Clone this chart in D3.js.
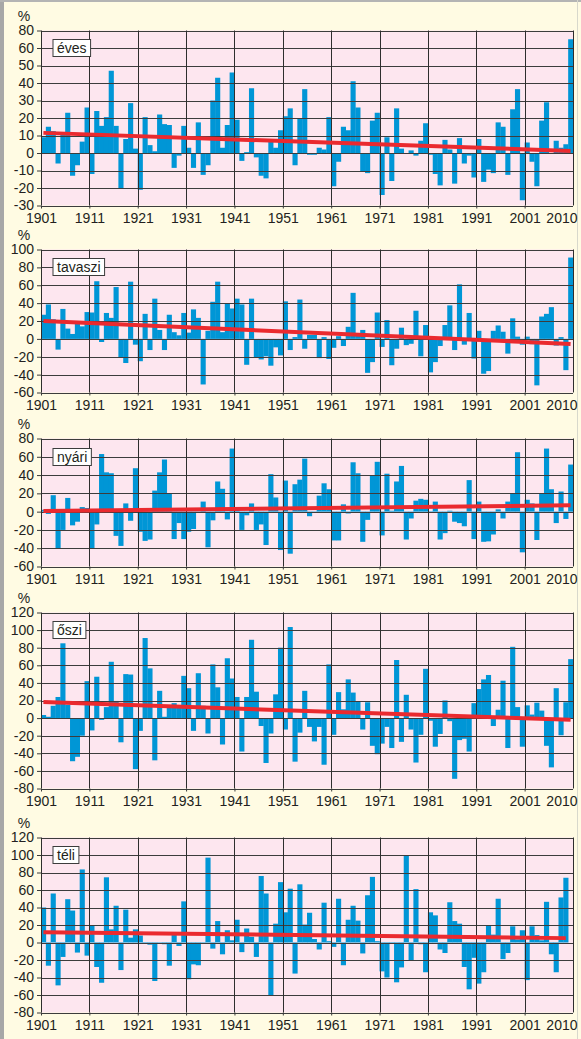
<!DOCTYPE html>
<html>
<head>
<meta charset="utf-8">
<script src="https://cdn.jsdelivr.net/npm/d3@7/dist/d3.min.js"></script>
<style>
  body { margin: 0; background: #fffbe3; }
  svg { display: block; font-family: "Liberation Sans", Arial, sans-serif; }
  .axis text { font-size: 14px; fill: #231f20; }
  .axis line { stroke: #3a3a3a; }
  .axis path { display: none; }
</style>
</head>
<body>
<div id="chart"></div>
<script>
// precipitation anomaly (%) by year, 1901-2010
const years = d3.range(1901, 2011);

const eves = [
  9, 15, 12.5, -6, 12, 23, -13, -7, 6.5, 26,
  -12, 24, 15.5, 20.5, 47, 15.5, -20, 8, 28.5, 2.5,
  -21, 20.5, 4.5, 1, 22, 16.5, 16, -8.5, -1.5, 15.5,
  3, -8.5, 17.5, -12.5, -7, 30, 43, 3, 16, 46,
  19, -4.5, 0.5, 37, -2.5, -13, -14.5, 8, 3, 13,
  21, 25.5, -7, 20, 36.5, -1, -1, 3, 2, 20.5,
  -19, -5, 15, 13, 41, 26, -10.5, -11.5, 18.5, 23,
  -24, 9, -16, 25.5, 2.5, -0.5, 1.5, -1.5, 7, 17,
  -1, -12, -18.5, 7.5, 2, -17.5, 8.5, -6, -1.5, -14,
  8, -16.5, -9.5, -11.5, 17.5, 15, -12.5, 25, 36.5, -27,
  6, -5, -19, 18.5, 29, -0.5, 7, 3, 5, 65
];

const tavaszi = [
  27, 38.5, 22, -12, 33.5, 11.5, 5.5, 17, 14, 30,
  29.5, 64.5, -3.5, 29, 23.5, 58, -21, -27, 64, -6.5,
  -25, 28, -12.5, 45, 10, -12.5, 27, 7.5, 4, 29,
  7, 33, 23.5, -51, 9, 41.5, 64, 7.5, 40, 34,
  45, 38.5, -29, 45, -20.5, -23, -19.5, -30, -9.5, -18.5,
  42, -12.5, 2, 44, -11, 4.5, 4.5, -21.5, 2, -22.5,
  -10, 3, -8, 13.5, 51.5, 5, 10, -38, -26, 29.5,
  -9, 21, -29.5, -11, 12.5, -7, -5.5, 31.5, -19.5, 15.5,
  -37.5, -26, -8, 15.5, 37.5, -12.5, 61, -6.5, 29, -22,
  9, -39, -36, 9, 15, 8, -16.5, 23, 2.5, -6.5,
  2.5, -6, -52, 25, 28, 35.5, -7.5, 2, -35, 91
];

const nyari = [
  2, -2.5, 18, -40, -20, 15, -15, -11, 5, 4,
  -40, -14, 63, 43, 42, -26.5, -37.5, 9, -10, 47.5,
  -22, -32, -30.5, 23, 43, 57, 19.5, -30, -12.5, -30,
  -22, -19, -1, 11, -39, -9.5, 33, 25, -8.5, 69,
  3, -20, -4, 9, -20, -14, -36.5, 41, 15.5, -42,
  34, -46, 30, 35, 58, -5, -1, 17.5, 31, 24.5,
  -31.5, -31.5, 8, -2, 54, 42, -33, -9, 39.5, 54.5,
  -26, 41.5, 1, 33, 50, -30.5, -7.5, 12, 14, 13,
  0.5, 11, -30.5, -23.5, 1, -11, -12.5, -16, 34.5, -30,
  11, -33, -32.5, -25, 2.5, -7.5, 11, 20, 65, -44.5,
  13, 9, -31, 20, 69, 24.5, -12.5, 22, -8, 51.5
];

const oszi = [
  3.5, 1.5, 14, 24, 85, 15, -49, -44, -20, 42,
  -14, 47, -2, 12.5, 64, 19.5, -27.5, 50, 49.5, -58,
  -14.5, 91, 56.5, -48, 31, 1.5, 13, 17, 13, 48,
  34, -14.5, 51, 14, -17.5, 61, 35, -30, 68, 45,
  24, -38, 24, 89, 30, -9, -51, -17.5, 27, 80,
  -13, 103.5, -49.5, -16.5, 31, -10, -26.5, -10, -53, 61,
  -19, 29.5, 10, 44, 29, 19, -13, 18, -31.5, -41,
  -29, -10, -34, 66, -27, 26.5, -13, -50.5, -19, 56,
  -3, -32.5, -18, 20, -3.5, -69, -25, -23.5, -38, 17,
  33, 44, 49, -9, 9.5, 42.5, -34, 81, 12.5, -32.5,
  14.5, 4, 17.5, 8.5, -31.5, -56, 34, -19.5, 18, 67
];

// winter series ends with 2009
const teli = [
  40, -26.5, 56, -49, -16.5, 49.5, 36.5, -11.5, 83.5, -15,
  20, -28, -46, 74.5, 15, 42, -31.5, 37.5, 5.5, 15,
  8, -1, -2.5, -44, 0.5, -2, -26.5, 9.5, -4, 47,
  -42, -25, -26, 0.5, 97, -7, 24.5, -13.5, 14, 2.5,
  26, -11, 16, 6.5, -16.5, 76, 56, -60, 21.5, 69,
  34.5, 61.5, -35.5, 66.5, 20.5, 34, 4, -8, 45.5, 1.5,
  -5, 50, -26, 26, 42, 25, -12.5, 54, 75, 1.5,
  -33, -40, -1, -45.5, -28.5, 100, -20.5, 61, -2, -34,
  34.5, 31, -8, -12, 46, 24.5, 21.5, -28, -53.5, -17.5,
  -47, -34, 19, 9, 50, -19, -12, 18.5, 3.5, 14,
  -43, 18.5, 8.5, 2.5, 46.5, -13.5, -34, 51.5, 74
];

// linear trend values at the first and last year of each series
const trendStart = [11.5, 20, 0.7, 18.2, 11.8];
const trendEnd = [1.2, -5.6, 7, -1.9, 5];

const panelNames = ['éves', 'tavaszi', 'nyári', 'őszi', 'téli'];

// tick labels as printed (the top label of the first panel reads 80)
const evesTicks = ['-30', '-20', '-10', '0', '10', '20', '30', '40', '50', '60', '80'];
const tavasziTicks = ['-60', '-40', '-20', '0', '20', '40', '60', '80', '100'];
const nyariTicks = ['-60', '-40', '-20', '0', '20', '40', '60', '80'];
const osziTicks = ['-80', '-60', '-40', '-20', '0', '20', '40', '60', '80', '100', '120'];
const teliTicks = ['-80', '-60', '-40', '-20', '0', '20', '40', '60', '80', '100', '120'];

const xTickYears = [1901, 1911, 1921, 1931, 1941, 1951, 1961, 1971, 1981, 1991, 2001, 2010];
const gridYears = [1901, 1911, 1921, 1931, 1941, 1951, 1961, 1971, 1981, 1991, 2001, 2011];

const W = 581, H = 1039;
const left = 41, right = 573;

const panels = [
  { values: eves,    ticks: evesTicks,    min: -30, step: 10, top: 30.5,  bottom: 205.5 },
  { values: tavaszi, ticks: tavasziTicks, min: -60, step: 20, top: 249.5, bottom: 392.5 },
  { values: nyari,   ticks: nyariTicks,   min: -60, step: 20, top: 438.5, bottom: 566.5 },
  { values: oszi,    ticks: osziTicks,    min: -80, step: 20, top: 612.5, bottom: 788.5 },
  { values: teli,    ticks: teliTicks,    min: -80, step: 20, top: 837.5, bottom: 1012.5 }
];

const svg = d3.select('#chart').append('svg')
  .attr('width', W)
  .attr('height', H);

svg.append('rect').attr('width', W).attr('height', H).attr('fill', '#fffbe3');
// frame
svg.append('rect').attr('x', 0).attr('y', 0).attr('width', 4).attr('height', H).attr('fill', '#a7a7a7');
svg.append('rect').attr('x', 0).attr('y', 0).attr('width', W).attr('height', 2).attr('fill', '#b4b4b4');
svg.append('line').attr('x1', 577.5).attr('x2', 577.5).attr('y1', 0).attr('y2', H)
  .attr('stroke', '#d8d8cc').attr('stroke-width', 1);

const x = d3.scaleLinear().domain([1901, 2011]).range([left, right]);
const bw = x(1902) - x(1901);

panels.forEach((p, k) => {
  const n = p.ticks.length;
  const tickVals = d3.range(n).map(i => p.min + i * p.step);
  const y = d3.scaleLinear()
    .domain([p.min, p.min + (n - 1) * p.step])
    .range([p.bottom, p.top]);

  const g = svg.append('g');

  g.append('rect')
    .attr('x', left).attr('y', p.top)
    .attr('width', right - left).attr('height', p.bottom - p.top)
    .attr('fill', '#fde6ef');

  const data = p.values.map((v, i) => ({ year: years[i], v }));

  // bars
  g.append('g').selectAll('rect')
    .data(data)
    .enter().append('rect')
    .attr('x', d => x(d.year))
    .attr('width', bw + 0.3)
    .attr('y', d => y(Math.max(0, d.v)))
    .attr('height', d => Math.abs(y(d.v) - y(0)))
    .attr('fill', '#0096d6');

  // grid
  g.append('g').selectAll('line')
    .data(tickVals)
    .enter().append('line')
    .attr('x1', left).attr('x2', right)
    .attr('y1', d => Math.round(y(d)) + 0.5).attr('y2', d => Math.round(y(d)) + 0.5)
    .attr('stroke', '#3c3c3c').attr('stroke-width', 1);

  g.append('g').selectAll('line')
    .data(gridYears)
    .enter().append('line')
    .attr('x1', d => Math.round(x(d)) + 0.5).attr('x2', d => Math.round(x(d)) + 0.5)
    .attr('y1', p.top).attr('y2', p.bottom)
    .attr('stroke', '#2e2e2e').attr('stroke-width', 1);

  // trend line, from the first to the last bar centre
  const y0 = data[0].year, y1 = data[data.length - 1].year;
  g.append('line')
    .attr('x1', x(y0) + bw / 2).attr('y1', y(trendStart[k]))
    .attr('x2', x(y1) + bw / 2).attr('y2', y(trendEnd[k]))
    .attr('stroke', '#ea2a2f').attr('stroke-width', 4);

  // y axis
  g.append('g')
    .attr('class', 'axis')
    .attr('transform', `translate(${left},0)`)
    .call(d3.axisLeft(y).tickValues(tickVals).tickSize(4).tickPadding(3)
      .tickFormat((d, i) => p.ticks[i]));

  // x axis
  const xa = g.append('g')
    .attr('class', 'axis')
    .attr('transform', `translate(0,${p.bottom})`)
    .call(d3.axisBottom(x).tickValues(xTickYears).tickSize(3).tickPadding(5)
      .tickFormat(d => String(d)));
  xa.selectAll('.tick').filter(d => d === 2010).select('line').remove();
  xa.selectAll('.tick').filter(d => d === 2010).select('text')
    .attr('text-anchor', 'end').attr('x', x(2011) - x(2010) + 4);

  g.append('text')
    .attr('x', 24).attr('y', p.top - 10)
    .attr('text-anchor', 'middle')
    .style('font-size', '14px').style('fill', '#231f20')
    .text('%');

  // series label box, centred on the second grid line
  const by = y(tickVals[n - 2]);
  const lbl = g.append('g');
  const rect = lbl.append('rect')
    .attr('x', left + 12).attr('y', Math.round(by) - 8.5)
    .attr('height', 17)
    .attr('fill', '#ffffff').attr('stroke', '#3c3c3c').attr('stroke-width', 1);
  const t = lbl.append('text')
    .attr('x', left + 16).attr('y', Math.round(by) + 5)
    .style('font-size', '14px').style('fill', '#231f20')
    .text(panelNames[k]);
  rect.attr('width', t.node().getComputedTextLength() + 8);
});
</script>
</body>
</html>
